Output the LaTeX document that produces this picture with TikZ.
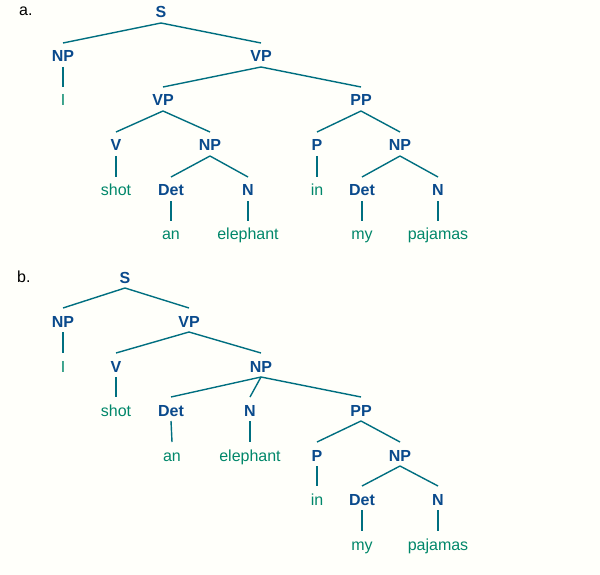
\documentclass[tikz,border=0pt]{standalone}
\usepackage{fontspec}
\setmainfont{Liberation Sans}
\usetikzlibrary{calc}
\definecolor{bgcol}{HTML}{FFFFFA}
\definecolor{labcol}{HTML}{0A4A8C}
\definecolor{leafcol}{HTML}{00876A}
\definecolor{linecol}{HTML}{006F80}
\tikzset{
  lab/.style={anchor=base,inner sep=0pt,text=labcol,font=\fontsize{16}{19}\selectfont\bfseries},
  leaf/.style={anchor=base,inner sep=0pt,text=leafcol,font=\fontsize{16}{19}\selectfont},
  tag/.style={anchor=base west,inner sep=0pt,text=black,font=\fontsize{16}{19}\selectfont},
  edge/.style={draw=linecol,line width=1.4pt}
}
\newcommand\treeedge[2]{\draw[edge] ($(#1.base)+(0,5)$) -- ($(#2.base)+(0,-19)$);}
\begin{document}
\begin{tikzpicture}[x=1pt,y=-1pt]
\fill[bgcol] (0,0) rectangle (600,575);
\useasboundingbox (0,0) rectangle (600,575);
% tree a
\node[tag] (aTag) at (19,16) {a.};
\node[lab] (aS) at (161,18) {S};
\node[lab] (aNP) at (63,62) {NP};
\node[lab] (aVP) at (261,62) {VP};
\node[leaf] (aI) at (63,106) {I};
\node[lab] (aVPb) at (163,106) {VP};
\node[lab] (aPP) at (361,106) {PP};
\node[lab] (aV) at (116,151) {V};
\node[lab] (aNPb) at (210,151) {NP};
\node[lab] (aP) at (317,151) {P};
\node[lab] (aNPc) at (400,151) {NP};
\node[leaf] (ashot) at (116,196) {shot};
\node[lab] (aDet) at (171,196) {Det};
\node[lab] (aN) at (248,196) {N};
\node[leaf] (ain) at (317,196) {in};
\node[lab] (aDetb) at (362,196) {Det};
\node[lab] (aNb) at (438,196) {N};
\node[leaf] (aan) at (171,240) {an};
\node[leaf] (aele) at (248,240) {elephant};
\node[leaf] (amy) at (362,240) {my};
\node[leaf] (apaj) at (438,240) {pajamas};
\treeedge{aS}{aNP}
\treeedge{aS}{aVP}
\treeedge{aNP}{aI}
\treeedge{aVP}{aVPb}
\treeedge{aVP}{aPP}
\treeedge{aVPb}{aV}
\treeedge{aVPb}{aNPb}
\treeedge{aPP}{aP}
\treeedge{aPP}{aNPc}
\treeedge{aV}{ashot}
\treeedge{aNPb}{aDet}
\treeedge{aNPb}{aN}
\treeedge{aP}{ain}
\treeedge{aNPc}{aDetb}
\treeedge{aNPc}{aNb}
\treeedge{aDet}{aan}
\treeedge{aN}{aele}
\treeedge{aDetb}{amy}
\treeedge{aNb}{apaj}
% tree b
\node[tag] (bTag) at (17,282) {b.};
\node[lab] (bS) at (125,283) {S};
\node[lab] (bNP) at (63,327) {NP};
\node[lab] (bVP) at (189,327) {VP};
\node[leaf] (bI) at (63,372) {I};
\node[lab] (bV) at (116,372) {V};
\node[lab] (bNPb) at (261,372) {NP};
\node[leaf] (bshot) at (116,416) {shot};
\node[lab] (bDet) at (171,416) {Det};
\node[lab] (bN) at (250,416) {N};
\node[lab] (bPP) at (361,416) {PP};
\node[leaf] (ban) at (172,461) {an};
\node[leaf] (bele) at (250,461) {elephant};
\node[lab] (bP) at (317,461) {P};
\node[lab] (bNPc) at (400,461) {NP};
\node[leaf] (bin) at (317,505) {in};
\node[lab] (bDetb) at (362,505) {Det};
\node[lab] (bNb) at (438,505) {N};
\node[leaf] (bmy) at (362,550) {my};
\node[leaf] (bpaj) at (438,550) {pajamas};
\treeedge{bS}{bNP}
\treeedge{bS}{bVP}
\treeedge{bNP}{bI}
\treeedge{bVP}{bV}
\treeedge{bVP}{bNPb}
\treeedge{bV}{bshot}
\treeedge{bNPb}{bDet}
\treeedge{bNPb}{bN}
\treeedge{bNPb}{bPP}
\treeedge{bDet}{ban}
\treeedge{bN}{bele}
\treeedge{bPP}{bP}
\treeedge{bPP}{bNPc}
\treeedge{bP}{bin}
\treeedge{bNPc}{bDetb}
\treeedge{bNPc}{bNb}
\treeedge{bDetb}{bmy}
\treeedge{bNb}{bpaj}
\end{tikzpicture}
\end{document}
